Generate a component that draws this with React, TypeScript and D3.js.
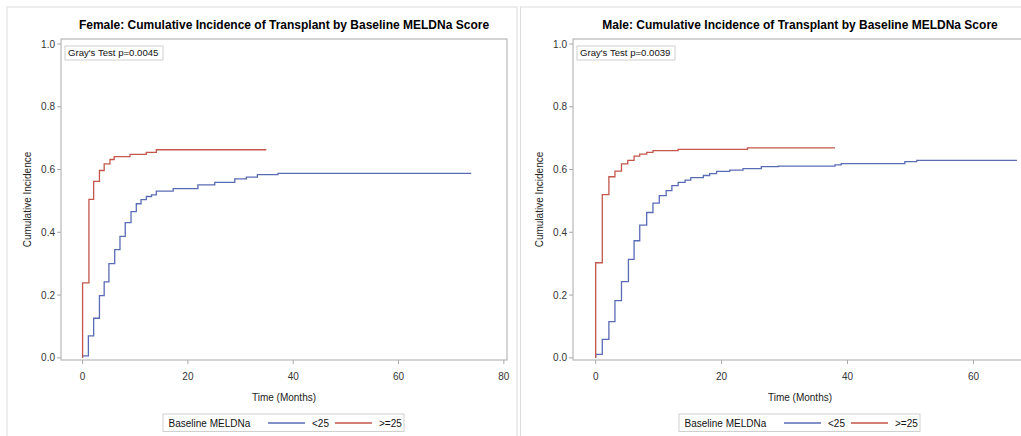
import React from "react";
import * as d3 from "d3";

// reading of the two SAS cumulative incidence panels
const yTicks = [0, 0.2, 0.4, 0.6, 0.8, 1.0];
const femaleXTicks = [0, 20, 40, 60, 80];
const maleXTicks = [0, 20, 40, 60];
const groups = ["<25", ">=25"];

// Female, MELDNa < 25
const femaleLowT = [0, 0, 1.1, 2.1, 3.2, 4.1, 5.0, 6.1, 7.1, 8.1, 9.2, 10.2, 11.1, 12.1, 13.1, 14.0, 17.2, 21.9, 25.1, 28.9, 31.1, 33.2, 37.1, 73.8];
const femaleLowV = [0, 0.006, 0.07, 0.126, 0.198, 0.242, 0.3, 0.345, 0.387, 0.431, 0.466, 0.491, 0.504, 0.514, 0.519, 0.531, 0.539, 0.551, 0.559, 0.57, 0.576, 0.584, 0.588, 0.588];
// Female, MELDNa >= 25
const femaleHighT = [0, 0, 1.2, 2.1, 3.2, 4.1, 5.2, 6.0, 9.0, 12.1, 14.0, 34.9];
const femaleHighV = [0, 0.239, 0.505, 0.562, 0.597, 0.618, 0.632, 0.641, 0.648, 0.655, 0.663, 0.663];

// Male, MELDNa < 25
const maleLowT = [0, 0, 1.05, 2.1, 3.06, 4.1, 5.2, 6.1, 7.0, 8.1, 9.1, 10.1, 11.2, 12.1, 13.1, 14.2, 15.1, 17.1, 18.1, 19.2, 21.3, 23.4, 26.3, 29.0, 38.0, 39.0, 49.1, 51.0, 66.9];
const maleLowV = [0, 0.011, 0.059, 0.115, 0.182, 0.243, 0.314, 0.373, 0.423, 0.463, 0.493, 0.517, 0.533, 0.549, 0.559, 0.566, 0.574, 0.581, 0.587, 0.594, 0.598, 0.603, 0.609, 0.611, 0.615, 0.619, 0.625, 0.629, 0.629];
// Male, MELDNa >= 25
const maleHighT = [0, 0, 1.05, 2.1, 3.06, 4.1, 5.1, 6.1, 7.0, 8.1, 9.1, 13.1, 24.1, 38.0];
const maleHighV = [0, 0.303, 0.52, 0.577, 0.595, 0.618, 0.629, 0.643, 0.649, 0.655, 0.66, 0.664, 0.669, 0.669];

const colors = ["#5a6bb6", "#c4564b"];
const font = "'Liberation Sans', Arial, sans-serif";

function Panel({ x0, plotLeft, plotRight, xDomain, xTicks, title, pText, lowT, lowV, highT, highV }) {
  const top = 39;
  const bottom = 360;
  const x = d3.scaleLinear().domain(xDomain).range([plotLeft, plotRight]);
  const y = d3.scaleLinear().domain([-0.007, 1.016]).range([bottom, top]);
  const line = d3.line().x(d => x(d[0])).y(d => y(d[1])).curve(d3.curveStepAfter);
  const series = [
    d3.zip(lowT, lowV),
    d3.zip(highT, highV),
  ];
  const cx = (plotLeft + plotRight) / 2;
  const legX = cx - 121;

  return (
    <g>
      <rect x={x0} y={7} width={plotRight - x0 + 10} height={440} fill="white" stroke="#dcdcdc" />
      <text x={cx} y={29} textAnchor="middle" fontSize={12} fontWeight="bold" fill="#000">{title}</text>
      <rect x={plotLeft} y={top} width={plotRight - plotLeft} height={bottom - top} fill="white" stroke="#a9a9a9" />
      {yTicks.map(t => (
        <g key={t}>
          <line x1={plotLeft - 4} x2={plotLeft} y1={y(t)} y2={y(t)} stroke="#a9a9a9" />
          <text x={plotLeft - 6} y={y(t)} dy="0.35em" textAnchor="end" fontSize={10} fill="#333">{t.toFixed(1)}</text>
        </g>
      ))}
      {xTicks.map(t => (
        <g key={t}>
          <line x1={x(t)} x2={x(t)} y1={bottom} y2={bottom + 4} stroke="#a9a9a9" />
          <text x={x(t)} y={376} dy="0.35em" textAnchor="middle" fontSize={10} fill="#333">{t}</text>
        </g>
      ))}
      <text x={cx} y={397} dy="0.35em" textAnchor="middle" fontSize={10} fill="#222">Time (Months)</text>
      <text transform={`translate(${plotLeft - 34},${(top + bottom) / 2}) rotate(-90)`} textAnchor="middle" dy="0.35em" fontSize={10} fill="#222">Cumulative Incidence</text>
      <g clipPath={`url(#clip${x0})`}>
        {series.map((s, i) => (
          <path key={i} d={line(s)} fill="none" stroke={colors[i]} strokeWidth={1.3} />
        ))}
      </g>
      <clipPath id={`clip${x0}`}>
        <rect x={plotLeft} y={top} width={plotRight - plotLeft} height={bottom - top} />
      </clipPath>
      <rect x={plotLeft + 4} y={46} width={98} height={14} fill="white" stroke="#d0d0d0" />
      <text x={plotLeft + 7} y={53} dy="0.35em" fontSize={9.6} fill="#111">{pText}</text>
      <rect x={legX} y={414} width={241} height={17.5} fill="white" stroke="#d0d0d0" />
      <text x={legX + 5.5} y={423} dy="0.35em" fontSize={10} fill="#111">Baseline MELDNa</text>
      {groups.map((g, i) => (
        <g key={g}>
          <line x1={legX + 105 + i * 67} x2={legX + 142 + i * 67} y1={423} y2={423} stroke={colors[i]} strokeWidth={1.3} />
          <text x={legX + 149 + i * 67} y={423} dy="0.35em" fontSize={10} fill="#111">{g}</text>
        </g>
      ))}
    </g>
  );
}

export default function App() {
  return (
    <svg width={1021} height={436} style={{ position: "absolute", left: 0, top: 0, fontFamily: font, background: "white" }}>
      <rect width={1021} height={436} fill="white" />
      <Panel
        x0={7}
        plotLeft={61}
        plotRight={507}
        xDomain={[-4.1, 80.6]}
        xTicks={femaleXTicks}
        title="Female: Cumulative Incidence of Transplant by Baseline MELDNa Score"
        pText="Gray's Test p=0.0045"
        lowT={femaleLowT}
        lowV={femaleLowV}
        highT={femaleHighT}
        highV={femaleHighV}
      />
      <Panel
        x0={520.5}
        plotLeft={573}
        plotRight={1027}
        xDomain={[-3.6, 68.5]}
        xTicks={maleXTicks}
        title="Male: Cumulative Incidence of Transplant by Baseline MELDNa Score"
        pText="Gray's Test p=0.0039"
        lowT={maleLowT}
        lowV={maleLowV}
        highT={maleHighT}
        highV={maleHighV}
      />
    </svg>
  );
}
